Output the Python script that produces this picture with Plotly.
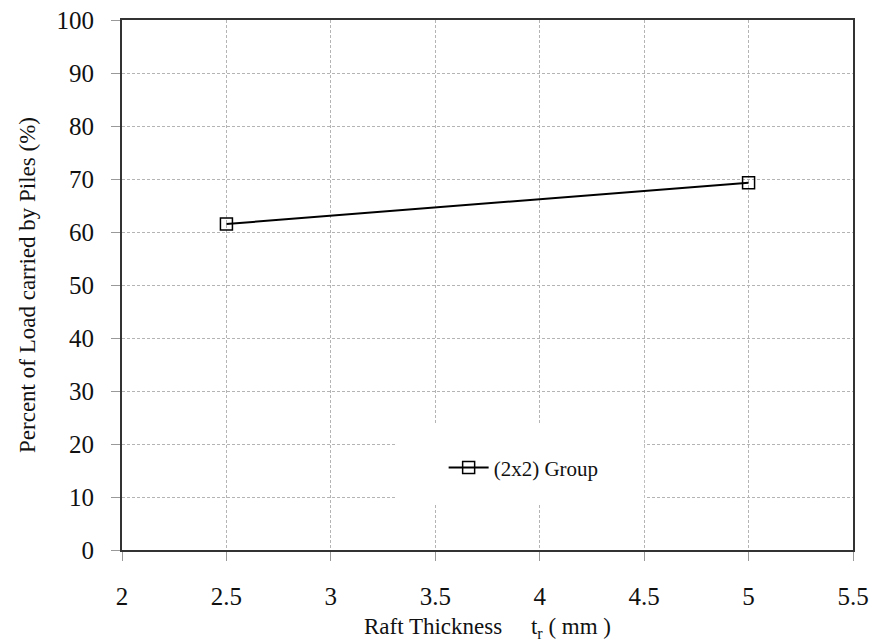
import plotly.graph_objects as go

# Raft thickness (mm) and share of load taken by the piles (%)
raft_thickness = [2.5, 5.0]
pile_load_pct = [61.5, 69.3]
series_name = "(2x2) Group"

x_ticks = [2, 2.5, 3, 3.5, 4, 4.5, 5, 5.5]
y_ticks = [0, 10, 20, 30, 40, 50, 60, 70, 80, 90, 100]

FONT = "Liberation Serif, Times New Roman, serif"

fig = go.Figure()
fig.add_trace(go.Scatter(
    x=raft_thickness, y=pile_load_pct, name=series_name,
    mode="lines+markers",
    line=dict(color="black", width=2),
    marker=dict(symbol="square-open", size=12, color="black",
                line=dict(width=1.5, color="black")),
))

grid = dict(showgrid=True, gridcolor="#b4b4b4", griddash="3px,2px", gridwidth=1,
            showline=True, linecolor="#333333", linewidth=2, mirror=True,
            ticks="outside", ticklen=9, tickcolor="#999999", tickwidth=1,
            zeroline=False, automargin=False,
            tickfont=dict(family=FONT, size=25, color="#111"))

fig.update_xaxes(range=[2, 5.5], tickvals=x_ticks, ticktext=[f"{v:g}" for v in x_ticks],
                 ticklabelstandoff=14,
                 title=dict(text="Raft Thickness     t<sub>r</sub> ( mm )",
                            font=dict(family=FONT, size=23, color="#111"), standoff=14),
                 **grid)
fig.update_yaxes(range=[0, 100], tickvals=y_ticks, ticklabelstandoff=12,
                 title=dict(text="Percent of Load carried by Piles (%)",
                            font=dict(family=FONT, size=23, color="#111"), standoff=14),
                 **grid)

# white panel behind the legend hides the gridlines
fig.add_shape(type="rect", xref="x", yref="y", x0=3.31, x1=4.5, y0=8.8, y1=23.9,
              fillcolor="white", line=dict(width=0), layer="between")

fig.update_layout(
    width=870, height=642,
    margin=dict(l=122, r=17, t=20, b=92),
    paper_bgcolor="white", plot_bgcolor="white",
    showlegend=True,
    legend=dict(x=0.44, y=0.155, xanchor="left", yanchor="middle",
                bgcolor="rgba(0,0,0,0)", font=dict(family=FONT, size=21, color="#111"),
                itemwidth=40),
    font=dict(family=FONT),
)

fig.write_html("out.html")
